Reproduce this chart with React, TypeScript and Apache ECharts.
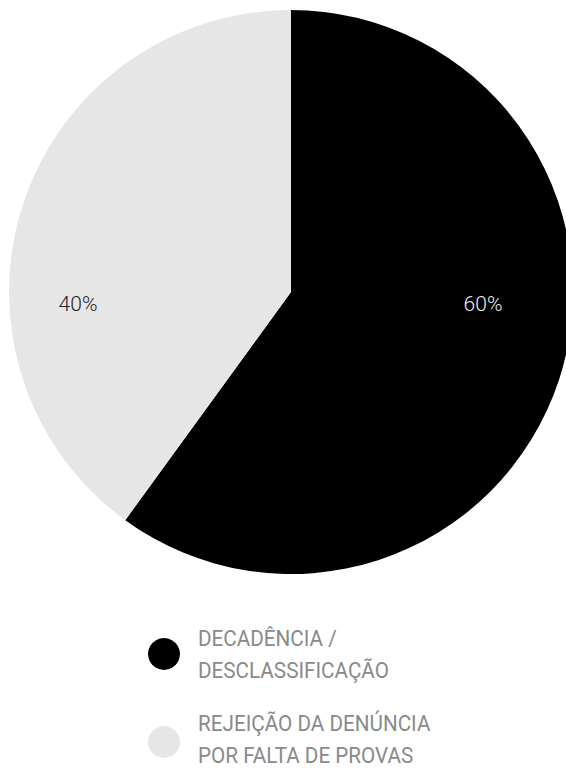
import React, { useEffect, useRef } from "react";
import * as echarts from "echarts";

const categories = ["DECADÊNCIA / DESCLASSIFICAÇÃO", "REJEIÇÃO DA DENÚNCIA POR FALTA DE PROVAS"];
const legendLines = [
  ["DECADÊNCIA /", "DESCLASSIFICAÇÃO"],
  ["REJEIÇÃO DA DENÚNCIA", "POR FALTA DE PROVAS"],
];
const values = [60, 40];
const colors = ["#000000", "#e6e6e6"];
const labelColors = ["#eeeeee", "#222222"];

export default function App() {
  const ref = useRef<HTMLDivElement>(null);
  useEffect(() => {
    document.body.style.margin = "0";
    const chart = echarts.init(ref.current!, null, { renderer: "svg" });
    const labelX = [483, 78];
    const legendY = [654, 739];
    const graphic: any[] = [];
    categories.forEach((_, i) => {
      graphic.push({
        type: "circle",
        shape: { cx: 164, cy: legendY[i] + (i === 1 ? 3 : 0), r: 16 },
        style: { fill: colors[i] },
      });
      graphic.push({
        type: "text",
        x: 198,
        y: legendY[i],
        scaleX: 0.94,
        style: {
          text: legendLines[i].join("\n"),
          fontFamily: "Roboto",
          fontWeight: 400,
          fontSize: 22,
          lineHeight: 32,
          fill: "#8a8a8a",
          textAlign: "left",
          textVerticalAlign: "middle",
        },
      });
    });
    chart.setOption({
      animation: false,
      graphic,
      series: [
        {
          type: "pie",
          center: [291, 292],
          radius: [0, 282],
          startAngle: 90,
          clockwise: true,
          silent: true,
          data: categories.map((name, i) => ({
            name,
            value: values[i],
            itemStyle: { color: colors[i] },
            label: { color: labelColors[i] },
          })),
          label: {
            show: true,
            position: "inside",
            formatter: "{d}%",
            fontFamily: "Roboto",
            fontWeight: 300,
            fontSize: 21,
          },
          labelLine: { show: false },
          labelLayout: (p: any) => ({ x: labelX[p.dataIndex], y: 304, align: "center", verticalAlign: "middle" }),
        },
      ],
    });
    return () => chart.dispose();
  }, []);
  return <div ref={ref} style={{ width: 566, height: 769 }} />;
}
